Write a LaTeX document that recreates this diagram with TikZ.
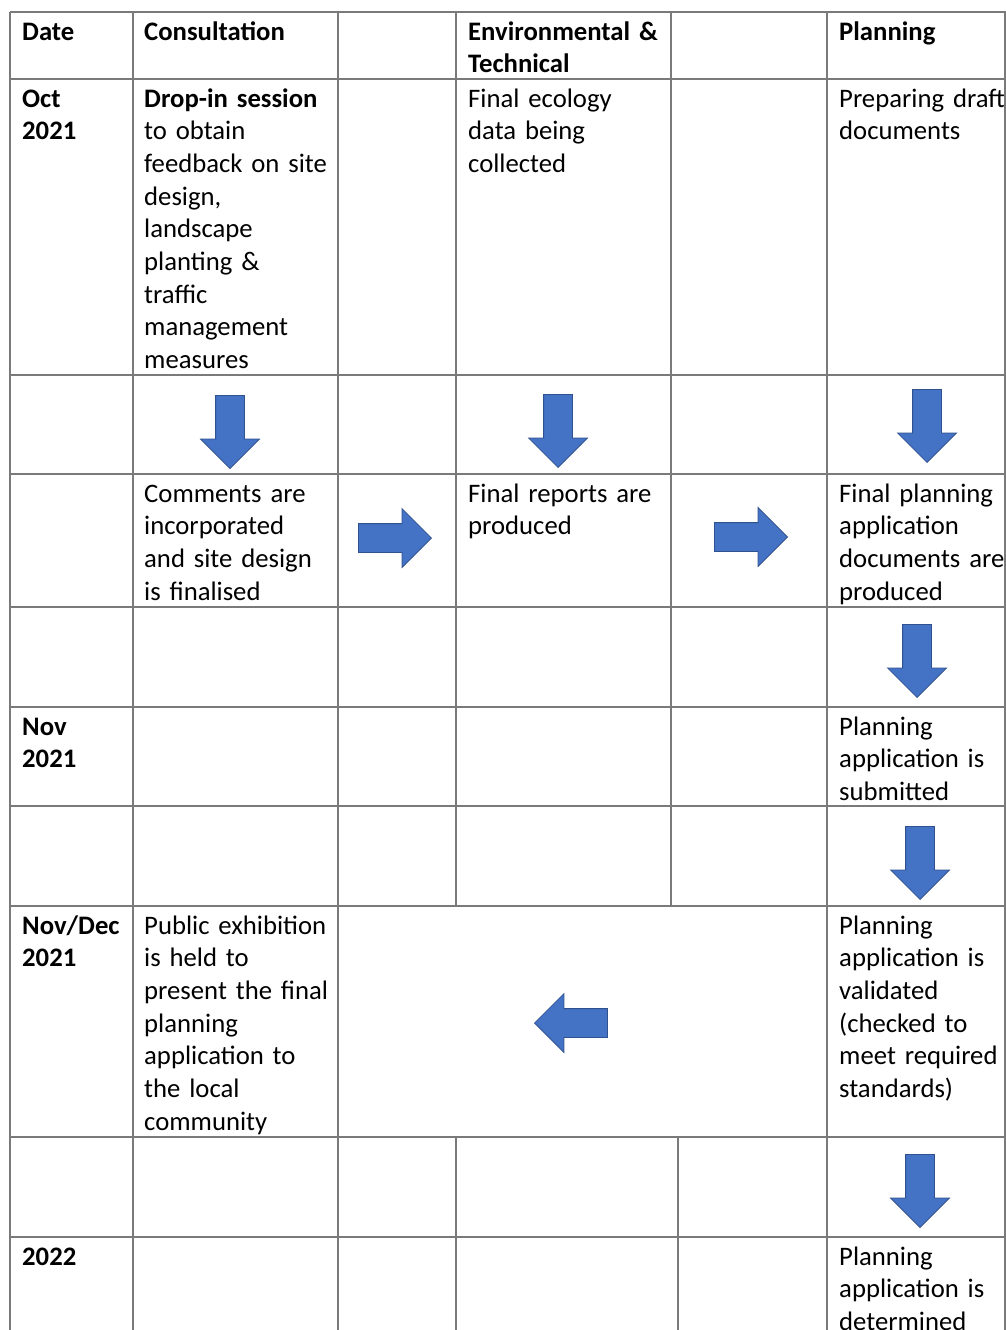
\documentclass[tikz,border=0pt]{standalone}
\usepackage{fontspec}
\setmainfont{Carlito}
\usetikzlibrary{shapes.arrows}
\definecolor{arrowblue}{HTML}{4472C4}
\definecolor{arrowedge}{HTML}{2F528F}
\definecolor{rulegray}{HTML}{7A7A7A}
\tikzset{
  cell/.style={anchor=north west, inner sep=0pt, text width=200pt, align=left,
    font=\fontsize{26.7}{32.7}\selectfont, execute at begin node=\strut},
  blockarrow/.style={shape=single arrow, fill=arrowblue, draw=arrowedge,
    line width=0.8pt, inner sep=14pt, minimum height=73pt, anchor=tip,
    single arrow head extend=15pt, single arrow head indent=0pt},
  arrowdown/.style={blockarrow, shape border rotate=270},
  arrowright/.style={blockarrow, shape border rotate=0},
  arrowleft/.style={blockarrow, shape border rotate=180},
}
\begin{document}
\begin{tikzpicture}[x=1pt, y=-1pt]
      \useasboundingbox (0, 0) rectangle (1006, 1330);
      % lines
      \begin{scope}[draw=rulegray, line width=1.4pt]
        \foreach \yy in {12, 79, 375, 474, 607, 707, 806, 906, 1137, 1237}
          \draw (10, \yy) -- (1006, \yy);
        \foreach \xx in {10, 133, 338, 827, 1005}
          \draw (\xx, 12) -- (\xx, 1332);
        \draw (456, 12) -- (456, 906);
        \draw (456, 1137) -- (456, 1332);
        \draw (671, 12) -- (671, 906);
        \draw (678, 1137) -- (678, 1332);
      \end{scope}
      % header
      \node[cell] (hdate) at (22, 17) {\textbf{Date}};
      \node[cell] (hcons) at (144, 17) {\textbf{Consultation}};
      \node[cell] (henv) at (468, 17) {\textbf{Environmental \&}\\\textbf{Technical}};
      \node[cell] (hplan) at (839, 17) {\textbf{Planning}};
      % Oct 2021
      \node[cell] (doct) at (22, 84) {\textbf{Oct}\\\textbf{2021}};
      \node[cell] (dropin) at (144, 84) {\textbf{Drop-in session}\\to obtain\\feedback on site\\design,\\landscape\\planting \&\\traffic\\management\\measures};
      \node[cell] (ecology) at (468, 84) {Final ecology\\data being\\collected};
      \node[cell] (drafts) at (839, 84) {Preparing draft\\documents};
      % finalising
      \node[cell] (comments) at (144, 479) {Comments are\\incorporated\\and site design\\is finalised};
      \node[cell] (reports) at (468, 479) {Final reports are\\produced};
      \node[cell] (appdocs) at (839, 479) {Final planning\\application\\documents are\\produced};
      % Nov 2021
      \node[cell] (dnov) at (22, 712) {\textbf{Nov}\\\textbf{2021}};
      \node[cell] (submitted) at (839, 712) {Planning\\application is\\submitted};
      % Nov/Dec 2021
      \node[cell] (dnovdec) at (22, 911) {\textbf{Nov/Dec}\\\textbf{2021}};
      \node[cell] (exhibition) at (144, 911) {Public exhibition\\is held to\\present the final\\planning\\application to\\the local\\community};
      \node[cell] (validated) at (839, 911) {Planning\\application is\\validated\\(checked to\\meet required\\standards)};
      % 2022
      \node[cell] (d2022) at (22, 1242) {\textbf{2022}};
      \node[cell] (determined) at (839, 1242) {Planning\\application is\\determined};
      % arrows (placed by their tips)
      \node[arrowdown] (consdown) at (230, 469) {};
      \node[arrowdown] (envdown) at (558, 468) {};
      \node[arrowdown] (plandown) at (927, 463) {};
      \node[arrowright] (toreports) at (432, 538) {};
      \node[arrowright] (toappdocs) at (788, 537) {};
      \node[arrowdown] (tosubmit) at (917, 698) {};
      \node[arrowdown] (tovalidate) at (920, 900) {};
      \node[arrowleft] (toexhibit) at (534, 1023) {};
      \node[arrowdown] (todetermine) at (920, 1228) {};
\end{tikzpicture}
\end{document}
